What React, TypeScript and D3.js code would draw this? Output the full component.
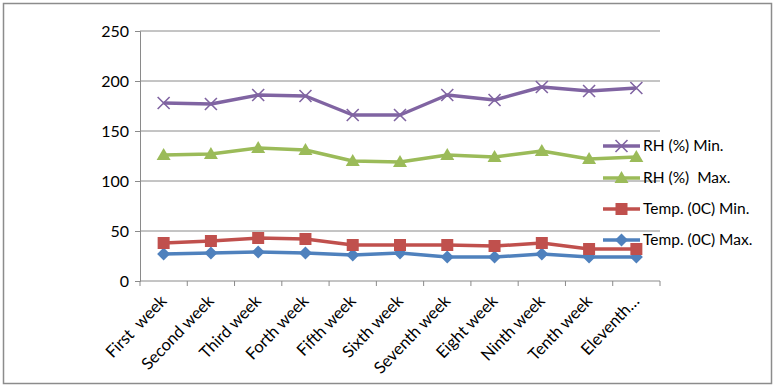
import React, { useEffect, useRef } from 'react';
import * as d3 from 'd3';

const weeks = [
  'First  week', 'Second week', 'Third week', 'Forth week', 'Fifth week', 'Sixth week',
  'Seventh week', 'Eight week', 'Ninth week', 'Tenth week', 'Eleventh…',
];

const rhMin = [178, 177, 186, 185, 166, 166, 186, 181, 194, 190, 193];
const rhMax = [126, 127, 133, 131, 120, 119, 126, 124, 130, 122, 124];
const tempMin = [38, 40, 43, 42, 36, 36, 36, 35, 38, 32, 32];
const tempMax = [27, 28, 29, 28, 26, 28, 24, 24, 27, 24, 24];

const yTicks = [0, 50, 100, 150, 200, 250];

type Shape = 'x' | 'triangle' | 'square' | 'diamond';

const series: { name: string; values: number[]; color: string; shape: Shape }[] = [
  { name: 'RH (%) Min.', values: rhMin, color: '#8064A2', shape: 'x' },
  { name: 'RH (%)  Max.', values: rhMax, color: '#9BBB59', shape: 'triangle' },
  { name: 'Temp. (0C) Min.', values: tempMin, color: '#C0504D', shape: 'square' },
  { name: 'Temp. (0C) Max.', values: tempMax, color: '#4F81BD', shape: 'diamond' },
];

const W = 777;
const H = 387;
const plot = { left: 140, right: 660, top: 31, bottom: 281 };
const FONT = 'Lato, "Liberation Sans", sans-serif';

function drawMarker(g: d3.Selection<SVGGElement, unknown, null, undefined>, shape: Shape, cx: number, cy: number, color: string) {
  if (shape === 'x') {
    const r = 6;
    g.append('path')
      .attr('d', `M${cx - r},${cy - r}L${cx + r},${cy + r}M${cx - r},${cy + r}L${cx + r},${cy - r}`)
      .attr('stroke', color).attr('stroke-width', 1.6).attr('fill', 'none');
  } else if (shape === 'triangle') {
    g.append('path')
      .attr('d', `M${cx},${cy - 7}L${cx + 7},${cy + 5}L${cx - 7},${cy + 5}Z`)
      .attr('fill', color);
  } else if (shape === 'square') {
    g.append('rect').attr('x', cx - 6).attr('y', cy - 6).attr('width', 12).attr('height', 12).attr('fill', color);
  } else {
    g.append('path')
      .attr('d', `M${cx},${cy - 6.5}L${cx + 6.5},${cy}L${cx},${cy + 6.5}L${cx - 6.5},${cy}Z`)
      .attr('fill', color);
  }
}

export default function App() {
  const ref = useRef<SVGSVGElement>(null);

  useEffect(() => {
    if (!ref.current) return;
    const svg = d3.select(ref.current);
    svg.selectAll('*').remove();

    svg.append('rect').attr('x', 3.5).attr('y', 3.5).attr('width', 768).attr('height', 380)
      .attr('fill', '#fff').attr('stroke', '#8c8c8c').attr('stroke-width', 1.5);

    const x = d3.scaleBand<string>().domain(weeks).range([plot.left, plot.right]);
    const y = d3.scaleLinear().domain([0, 250]).range([plot.bottom, plot.top]);

    // gridlines
    svg.append('g').selectAll('line').data(yTicks.filter(t => t > 0)).join('line')
      .attr('x1', plot.left).attr('x2', plot.right)
      .attr('y1', d => y(d)).attr('y2', d => y(d))
      .attr('stroke', '#8a8a8a').attr('stroke-width', 1);

    // y axis
    const yAxis = svg.append('g').attr('transform', `translate(${plot.left},0)`)
      .call(d3.axisLeft(y).tickValues(yTicks).tickSize(5).tickPadding(6));
    yAxis.select('.domain').attr('stroke', '#8a8a8a');
    yAxis.selectAll('line').attr('stroke', '#8a8a8a');
    yAxis.selectAll('text').attr('font-family', FONT).attr('font-size', 16).attr('fill', '#000');

    // x axis with ticks at category boundaries
    const xg = svg.append('g');
    xg.append('line').attr('x1', plot.left).attr('x2', plot.right)
      .attr('y1', plot.bottom).attr('y2', plot.bottom).attr('stroke', '#8a8a8a');
    const bounds = [...weeks.map(w => x(w) as number), plot.right];
    xg.selectAll('line.tick').data(bounds).join('line').attr('class', 'tick')
      .attr('x1', d => d).attr('x2', d => d)
      .attr('y1', plot.bottom).attr('y2', plot.bottom + 5).attr('stroke', '#8a8a8a');
    xg.selectAll('text').data(weeks).join('text')
      .attr('transform', d => `translate(${(x(d) as number) + x.bandwidth() / 2 + 4},${plot.bottom + 21}) rotate(-46)`)
      .attr('text-anchor', 'end')
      .attr('font-family', FONT).attr('font-size', 16.5)
      .attr('fill', '#000')
      .style('white-space', 'pre')
      .text(d => d);

    const cx = (i: number) => (x(weeks[i]) as number) + x.bandwidth() / 2;
    const line = d3.line<number>().x((_, i) => cx(i)).y(d => y(d));

    // legend (drawn beneath the series)
    const legendY = [146, 178, 209, 240];
    series.forEach((s, k) => {
      const lg = svg.append('g');
      lg.append('line').attr('x1', 603).attr('x2', 640).attr('y1', legendY[k]).attr('y2', legendY[k])
        .attr('stroke', s.color).attr('stroke-width', 3.5);
      drawMarker(lg, s.shape, 621.5, legendY[k], s.color);
      lg.append('text').attr('x', 643).attr('y', legendY[k]).attr('dy', '0.35em')
        .attr('font-family', FONT).attr('font-size', 15.5).attr('fill', '#000')
        .style('white-space', 'pre').text(s.name);
    });

    [...series].reverse().forEach(s => {
      const g = svg.append('g');
      g.append('path').datum(s.values).attr('d', line)
        .attr('fill', 'none').attr('stroke', s.color).attr('stroke-width', 3.5)
        .attr('stroke-linejoin', 'round');
      s.values.forEach((v, i) => drawMarker(g, s.shape, cx(i), y(v), s.color));
    });
  }, []);

  return (
    <svg ref={ref} width={W} height={H}
      style={{ position: 'absolute', left: 0, top: 0, display: 'block' }} />
  );
}
